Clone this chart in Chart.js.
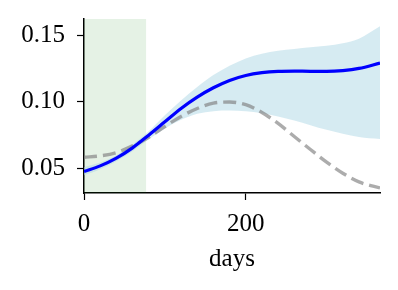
<!DOCTYPE html>
<html>
<head>
<meta charset="utf-8">
<script src="https://cdn.jsdelivr.net/npm/chart.js@4"></script>
<style>
html,body{margin:0;padding:0;background:#fff;}
#wrap{width:398px;height:290px;position:relative;}
</style>
</head>
<body>
<div id="wrap"><canvas id="c" width="398" height="290"></canvas></div>
<script>
const days      = [0,20,40,60,80,100,120,140,160,180,200,220,240,260,280,300,320,340,366];
const meanVals  = [0.0478,0.0520,0.0578,0.0655,0.0750,0.0850,0.0950,0.1035,0.1105,0.1160,0.1197,0.1218,0.1228,0.1230,0.1228,0.1228,0.1234,0.1250,0.1290];
const upperVals = [0.0510,0.0545,0.0600,0.0680,0.0780,0.0900,0.1010,0.1110,0.1200,0.1270,0.1325,0.1360,0.1382,0.1396,0.1408,0.1420,0.1438,0.1472,0.1565];
const lowerVals = [0.0450,0.0495,0.0555,0.0630,0.0720,0.0800,0.0865,0.0910,0.0930,0.0935,0.0930,0.0915,0.0890,0.0860,0.0825,0.0790,0.0760,0.0737,0.0722];
const trueVals  = [0.0585,0.0595,0.0620,0.0670,0.0735,0.0815,0.0890,0.0950,0.0990,0.0998,0.0978,0.0920,0.0838,0.0740,0.0643,0.0548,0.0465,0.0400,0.0355];
const shadeDays = [0,77];
const xTicks = [0,200];
const yTicks = [0.05,0.10,0.15];
const xMin = 0, xMax = 366;
const yMin = 0.0317, yMax = 0.162;

const pts = vals => days.map((d,i)=>({x:d,y:vals[i]}));
const font = {family:"'Liberation Serif', 'DejaVu Serif', serif", size:25};

new Chart(document.getElementById('c'), {
  type:'line',
  data:{datasets:[
    {label:'shade', data:shadeDays.map(d=>({x:d,y:yMax})), fill:'start',
     backgroundColor:'rgba(0,128,0,0.1)', borderWidth:0, pointRadius:0, order:5},
    {label:'upper', data:pts(upperVals), fill:'+1', backgroundColor:'rgba(173,216,230,0.5)',
     borderWidth:0, pointRadius:0, cubicInterpolationMode:'monotone', order:4},
    {label:'lower', data:pts(lowerVals), fill:false, borderWidth:0, pointRadius:0,
     cubicInterpolationMode:'monotone', order:3},
    {label:'true', data:pts(trueVals), fill:false, borderColor:'rgba(128,128,128,0.65)',
     borderWidth:3.4, borderDash:[13,6], pointRadius:0, cubicInterpolationMode:'monotone', order:1},
    {label:'mean', data:pts(meanVals), fill:false, borderColor:'#0000ff',
     borderWidth:3.2, pointRadius:0, cubicInterpolationMode:'monotone', order:0}
  ]},
  options:{
    responsive:false, animation:false, events:[],
    layout:{padding:{left:0,top:19,right:18,bottom:0}},
    plugins:{legend:{display:false}, tooltip:{enabled:false}},
    scales:{
      x:{type:'linear', min:xMin, max:xMax,
         afterBuildTicks:s=>{s.ticks = xTicks.map(v=>({value:v}));},
         afterFit:s=>{s.height = 97; s.paddingLeft = 0; s.paddingRight = 0;},
         grid:{display:true, drawOnChartArea:false, drawTicks:true, tickLength:7, tickColor:'#000', tickWidth:1.2},
         border:{display:true, color:'#000', width:1.5},
         ticks:{color:'#000', font:font, padding:9, maxRotation:0, callback:v=>String(v)},
         title:{display:true, text:'days', color:'#000', font:font, padding:{top:0,bottom:16}}
      },
      y:{type:'linear', min:yMin, max:yMax,
         afterBuildTicks:s=>{s.ticks = yTicks.map(v=>({value:v}));},
         afterFit:s=>{s.width = 84; s.paddingTop = 0; s.paddingBottom = 0;},
         grid:{display:true, drawOnChartArea:false, drawTicks:true, tickLength:7, tickColor:'#000', tickWidth:1.2},
         border:{display:true, color:'#000', width:1.5},
         ticks:{color:'#000', font:font, padding:12, callback:v=>v.toFixed(2)}
      }
    }
  }
});
</script>
</body>
</html>
